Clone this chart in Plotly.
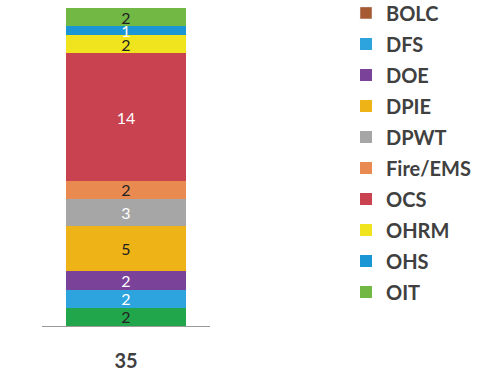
import plotly.graph_objects as go

category = ["35"]
names = ["BOLC", "DFS", "DOE", "DPIE", "DPWT", "Fire/EMS", "OCS", "OHRM", "OHS", "OIT"]
values = [2, 2, 2, 5, 3, 2, 14, 2, 1, 2]
bar_colors = ["#22a64c", "#2ea4de", "#7b429a", "#eeb316", "#a6a6a6", "#e98b50",
              "#c8434f", "#efe41e", "#1a96d4", "#72b845"]
legend_colors = ["#a65a32", "#2ea4de", "#7b429a", "#eeb316", "#a6a6a6", "#e98b50",
                 "#c8434f", "#efe41e", "#1a96d4", "#72b845"]
label_colors = ["#222222", "white", "white", "#222222", "white", "#222222",
                "white", "#222222", "white", "#222222"]

fig = go.Figure()
for i, (n, v) in enumerate(zip(names, values)):
    same = bar_colors[i] == legend_colors[i]
    fig.add_trace(go.Bar(
        x=category, y=[v], name=n,
        marker=dict(color=bar_colors[i], line=dict(width=0)),
        text=[str(v)], textposition="inside", insidetextanchor="middle",
        textangle=0, constraintext="none",
        textfont=dict(size=16, color=label_colors[i], family="Lato"),
        showlegend=same, legendgroup=n, legendrank=i + 1,
        hoverinfo="skip",
    ))
    if not same:
        fig.add_trace(go.Bar(
            x=[None], y=[None], name=n,
            marker=dict(color=legend_colors[i]),
            showlegend=True, legendgroup=n, legendrank=i + 1,
        ))

fig.update_layout(
    width=484, height=373,
    barmode="stack", bargap=0.286,
    margin=dict(l=42, r=274, t=8, b=47, autoexpand=False),
    paper_bgcolor="white", plot_bgcolor="white",
    font=dict(family="Lato", color="#404040"),
    uniformtext=dict(minsize=16, mode="show"),
    xaxis=dict(showline=True, linecolor="#9a9a9a", linewidth=1,
               ticks="", ticklabelstandoff=17,
               tickfont=dict(size=20, family="Lato", weight="bold", color="#404040"),
               showgrid=False, zeroline=False),
    yaxis=dict(visible=False, range=[0, 35]),
    legend=dict(x=(346 - 42) / 168, y=1 + 14.6 / 318,
                xanchor="left", yanchor="top", maxheight=370,
                bgcolor="rgba(0,0,0,0)",
                font=dict(size=20, family="Lato", weight="bold", color="#404040"),
                traceorder="grouped", tracegroupgap=2, itemwidth=30),
    showlegend=True,
)

fig.write_html("out.html")
